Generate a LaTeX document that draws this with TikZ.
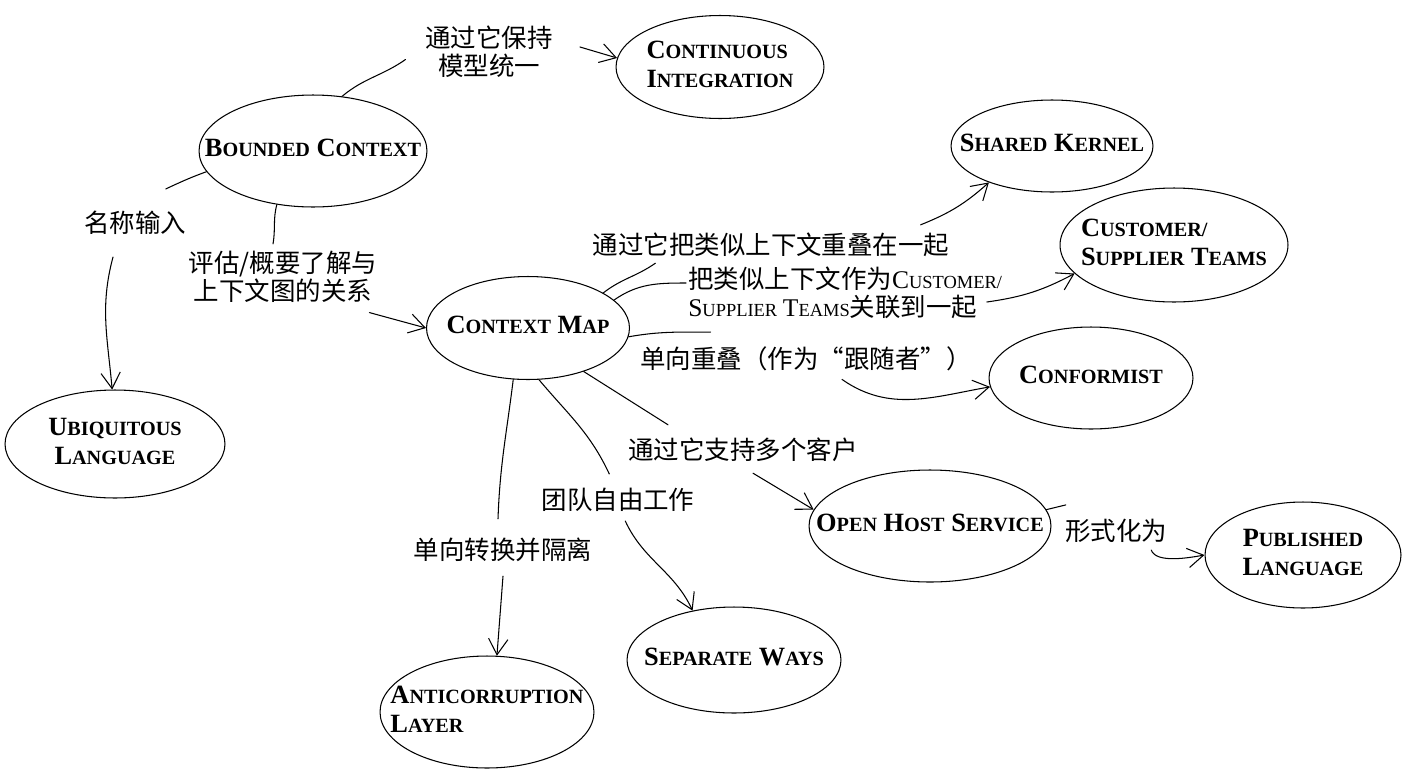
\documentclass[tikz,border=0pt]{standalone}
\usepackage{fontspec}
\setmainfont{Liberation Serif}
\newfontfamily\cjk{Noto Sans CJK SC}
\usetikzlibrary{shapes.geometric,arrows.meta}
\newcommand\scw[2]{#1{\fontsize{11.5pt}{13pt}\selectfont #2}}
\newcommand\lsc[2]{{\rmfamily #1{\fontsize{10.5pt}{12pt}\selectfont #2}}}
\newcommand\ctext[2][c]{\makebox[0pt]{\begin{tabular}{@{}#1@{}}#2\end{tabular}}}
\tikzset{
  concept/.style={ellipse, draw, inner sep=0pt, font=\bfseries\fontsize{15pt}{17pt}\selectfont},
  rel/.style={font=\cjk\fontsize{14.5pt}{16pt}\selectfont, inner sep=1pt},
}
\begin{document}
\begin{tikzpicture}[x=0.02cm, y=-0.02cm, >={Straight Barb[length=9pt,width=11pt]}, line join=round, line cap=round, line width=0.6pt]
            \useasboundingbox (0,0) rectangle (1406,778);
            % concepts
            \node[concept, minimum width=4.16cm, minimum height=2.06cm] (ci) at (720,67) {\ctext[l]{\scw{C}{ONTINUOUS}\\\scw{I}{NTEGRATION}}};
            \node[concept, minimum width=4.56cm, minimum height=2.24cm] (bc) at (313,151) {\ctext{\scw{B}{OUNDED} \scw{C}{ONTEXT}}};
            \node[concept, minimum width=4.04cm, minimum height=1.84cm] (sk) at (1052,146) {\ctext{\scw{S}{HARED} \scw{K}{ERNEL}}};
            \node[concept, minimum width=4.56cm, minimum height=2.28cm] (cs) at (1174,245) {\ctext[l]{\scw{C}{USTOMER/}\\\scw{S}{UPPLIER} \scw{T}{EAMS}}};
            \node[concept, minimum width=4.08cm, minimum height=2.04cm] (cf) at (1091,378) {\ctext{\scw{C}{ONFORMIST}}};
            \node[concept, minimum width=4.06cm, minimum height=2.06cm] (cm) at (528,328) {\ctext{\scw{C}{ONTEXT} \scw{M}{AP}}};
            \node[concept, minimum width=4.4cm, minimum height=2.16cm] (ul) at (115,444) {\ctext{\scw{U}{BIQUITOUS}\\\scw{L}{ANGUAGE}}};
            \node[concept, minimum width=4.84cm, minimum height=2.24cm] (ohs) at (930,526) {\ctext{\scw{O}{PEN} \scw{H}{OST} \scw{S}{ERVICE}}};
            \node[concept, minimum width=3.92cm, minimum height=2.12cm] (pl) at (1303,555) {\ctext{\scw{P}{UBLISHED}\\\scw{L}{ANGUAGE}}};
            \node[concept, minimum width=4.28cm, minimum height=2.12cm] (sw) at (734,660) {\ctext{\scw{S}{EPARATE} \scw{W}{AYS}}};
            \node[concept, minimum width=4.28cm, minimum height=2.24cm] (al) at (487,712) {\ctext[l]{\scw{A}{NTICORRUPTION}\\\scw{L}{AYER}}};
            % relation texts
            \node[rel, align=center] (keep) at (489,52) {通过它保持\\模型统一};
            \node[rel] (names) at (135,223) {名称输入};
            \node[rel, align=center] (eval) at (283,277) {评估/概要了解与\\上下文图的关系};
            \node[rel] (overlap) at (771,245) {通过它把类似上下文重叠在一起};
            \node[rel, align=left, anchor=west] (relate) at (686,293) {把类似上下文作为\lsc{C}{USTOMER/}\\\lsc{S}{UPPLIER} \lsc{T}{EAMS}关联到一起};
            \node[rel] (follow) at (806,359) {单向重叠（作为“跟随者”）};
            \node[rel] (clients) at (743,450) {通过它支持多个客户};
            \node[rel] (free) at (618,500) {团队自由工作};
            \node[rel] (isolate) at (503,550) {单向转换并隔离};
            \node[rel] (formal) at (1116,531) {形式化为};
            % connectors
            \draw (bc.62) to[out=40, in=215] ([xshift=-0.35cm,yshift=-0.15cm]keep.west);
            \draw[->] ([xshift=0.5cm,yshift=0.1cm]keep.east) -- (ci.175);
            \draw (bc.191) to[out=200, in=25] ([xshift=-0.45cm,yshift=0.4cm]names.north east);
            \draw[->] ([xshift=-0.44cm,yshift=-0.4cm]names.south) to[out=-105, in=95] (ul.93);
            \draw (bc.236) to[out=-105, in=80] ([xshift=-0.2cm,yshift=0.1cm]eval.north);
            \draw[->] ([xshift=-0.2cm,yshift=-0.15cm]eval.south east) -- (cm.180);
            \draw (cm.25) to[out=38, in=215] ([xshift=1.3cm,yshift=-0.08cm]overlap.south west);
            \draw[->] ([xshift=-0.62cm,yshift=0.12cm]overlap.north east) to[bend right=10] (sk.210);
            \draw (cm.18) to[out=35, in=180] ([yshift=0.2cm]relate.west);
            \draw[->] ([xshift=-0.35cm,yshift=-0.18cm]relate.east) to[bend right=10] (cs.196);
            \draw (cm.-5) to[out=10, in=180] ([xshift=1.45cm,yshift=0.25cm]follow.north west);
            \draw[->] ([xshift=0.72cm,yshift=-0.12cm]follow.south) to[out=-35, in=190] (cf.185);
            \draw (cm.-38) -- ([xshift=0.84cm,yshift=0.22cm]clients.north west);
            \draw[->] ([xshift=0.2cm,yshift=-0.18cm]clients.south) -- (ohs.172);
            \draw (cm.-78) to[out=-50, in=115] ([xshift=1.4cm,yshift=0.24cm]free.north west);
            \draw[->] ([xshift=1.72cm,yshift=-0.14cm]free.south west) to[out=-65, in=115] (sw.130);
            \draw (cm.-106) to[out=-97, in=88] ([xshift=-0.1cm,yshift=0.34cm]isolate.north);
            \draw[->] ([yshift=-0.24cm]isolate.south) -- (al.80);
            \draw (ohs.8) -- ([xshift=0.06cm,yshift=0.24cm]formal.north west);
            \draw[->] ([xshift=-0.36cm,yshift=-0.1cm]formal.south east) to[out=-70, in=190, looseness=0.7] (pl.west);
    \end{tikzpicture}
\end{document}
